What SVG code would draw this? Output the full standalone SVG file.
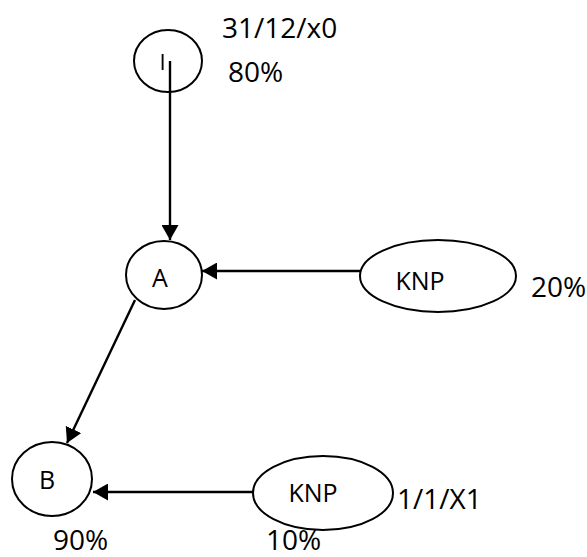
<svg xmlns="http://www.w3.org/2000/svg" width="587" height="557" viewBox="0 0 587 557">
<style>
  .node { fill: #ffffff; stroke: #000000; stroke-width: 2; }
  .edge { fill: none; stroke: #000000; stroke-width: 2.4; marker-end: url(#arrow); }
  text { font-family: "Open Sans", "Liberation Sans", sans-serif; fill: #000000; }
  .lbl { font-size: 25px; }
  .big { font-size: 28px; }
</style>
<defs>
  <marker id="arrow" markerUnits="userSpaceOnUse" markerWidth="15" markerHeight="17" refX="15" refY="8.5" orient="auto" viewBox="0 0 15 17">
    <path d="M0,0 L15,8.5 L0,17 z" fill="#000000"/>
  </marker>
</defs>
<rect width="587" height="557" fill="#ffffff"/>
<g id="node-I">
  <ellipse class="node" cx="168" cy="61" rx="34" ry="31"/>
  <text x="159.5" y="70" style="font-size:22px">I</text>
</g>
<g id="node-A">
  <ellipse class="node" cx="164" cy="275" rx="38" ry="34"/>
  <text class="lbl" x="160" y="287" text-anchor="middle">A</text>
</g>
<g id="node-KNP1">
  <ellipse class="node" cx="438" cy="276" rx="78" ry="36"/>
  <text class="lbl" x="420" y="290" text-anchor="middle">KNP</text>
</g>
<g id="node-B">
  <ellipse class="node" cx="52" cy="479" rx="40" ry="37"/>
  <text class="lbl" x="47" y="489" text-anchor="middle">B</text>
</g>
<g id="node-KNP2">
  <ellipse class="node" cx="323" cy="493" rx="70" ry="37"/>
  <text class="lbl" x="313" y="502" text-anchor="middle">KNP</text>
</g>
<g id="connectors">
  <line class="edge" x1="170" y1="61" x2="170" y2="240"/>
  <line class="edge" x1="360" y1="271" x2="202" y2="271"/>
  <line class="edge" x1="135" y1="300" x2="67" y2="443"/>
  <line class="edge" x1="254" y1="492" x2="93" y2="492"/>
</g>
<g id="labels">
  <text class="big" x="222" y="38">31/12/x0</text>
  <text class="big" x="228" y="82">80%</text>
  <text class="big" x="531" y="297">20%</text>
  <text class="big" x="397" y="509">1/1/X1</text>
  <text class="big" x="53" y="550">90%</text>
  <text class="big" x="266" y="550">10%</text>
</g>
</svg>
